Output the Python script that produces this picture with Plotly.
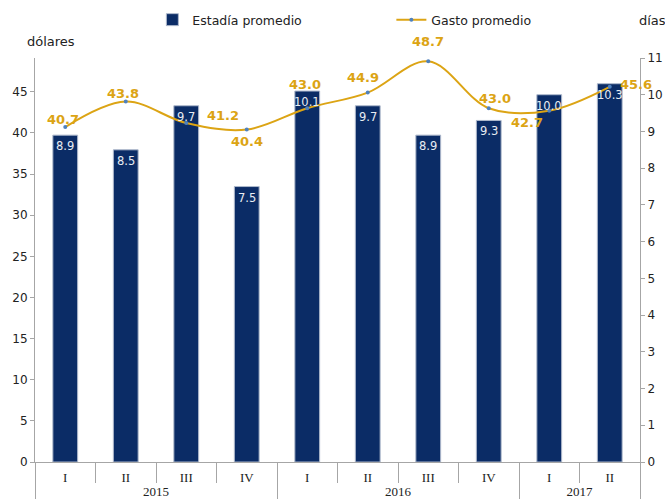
import plotly.graph_objects as go

YEARS = ["2015"] * 4 + ["2016"] * 4 + ["2017"] * 2
QUARTERS = ["I", "II", "III", "IV", "I", "II", "III", "IV", "I", "II"]
ESTADIA = [8.9, 8.5, 9.7, 7.5, 10.1, 9.7, 8.9, 9.3, 10.0, 10.3]
GASTO = [40.7, 43.8, 41.2, 40.4, 43.0, 44.9, 48.7, 43.0, 42.7, 45.6]

# label offsets (px) for the gasto labels, as placed in the original
GASTO_SHIFTS = [(-2, 8), (-3, 8), (37, 8), (0, -12), (-2, 24),
                (-5, 15), (0, 20), (6, 10), (-22, -12), (26, 2)]

NAVY = "#0B2C66"
GOLD = "#DCA414"
AXIS = "#A6A6A6"
FONT = "DejaVu Sans, Verdana, sans-serif"

fig = go.Figure()

fig.add_trace(go.Bar(
    x=[YEARS, QUARTERS], y=ESTADIA, name="Estadía promedio",
    marker=dict(color=NAVY, line=dict(color="#AEB9CC", width=1)),
    width=0.41, yaxis="y",
))
fig.add_trace(go.Scatter(
    x=[YEARS, QUARTERS], y=GASTO, name="Gasto promedio", mode="lines+markers",
    line=dict(color=GOLD, width=2, shape="spline", smoothing=1),
    marker=dict(color="#4F81BD", size=4),
    yaxis="y2", cliponaxis=False,
))

annotations = []
for i, (v, (dx, dy)) in enumerate(zip(GASTO, GASTO_SHIFTS)):
    annotations.append(dict(
        x=i, y=v, xref="x", yref="y2", text=f"{v:.1f}", showarrow=False,
        xshift=dx, yshift=dy, font=dict(family=FONT, size=13, color=GOLD, weight="bold"),
    ))
for i, v in enumerate(ESTADIA):
    annotations.append(dict(
        x=i, y=v, xref="x", yref="y", text=f"{v:.1f}", showarrow=False,
        yanchor="top", yshift=-2, font=dict(family=FONT, size=11.5, color="#E8ECF2"),
    ))
annotations.append(dict(
    x=-0.0165, y=1.04, xref="paper", yref="paper", text="dólares", showarrow=False,
    xanchor="left", yanchor="middle", font=dict(family=FONT, size=13, color="#222"),
))
annotations.append(dict(
    x=0.995, y=1.094, xref="paper", yref="paper", text="días", showarrow=False,
    xanchor="left", yanchor="middle", font=dict(family=FONT, size=13, color="#222"),
))

fig.update_layout(
    width=665, height=502,
    margin=dict(l=35, r=25, t=58, b=40, autoexpand=False),
    plot_bgcolor="white", paper_bgcolor="white",
    font=dict(family=FONT, size=12, color="#333"),
    bargap=0.59,
    legend=dict(
        orientation="h", x=0.194, y=1.094, xanchor="left", yanchor="middle",
        font=dict(family=FONT, size=12.5, color="#222"),
        entrywidth=194, entrywidthmode="pixels", bgcolor="rgba(0,0,0,0)",
    ),
    annotations=annotations,
    xaxis=dict(
        type="multicategory", range=[-0.5, len(QUARTERS) - 0.5], autorange=False,
        showline=True, linecolor=AXIS, linewidth=1,
        ticks="outside", tickson="boundaries", ticklen=20, tickcolor=AXIS,
        showdividers=True, dividercolor=AXIS, dividerwidth=1, automargin=False,
        ticklabelstandoff=3,
        showgrid=False, tickfont=dict(family="Liberation Serif", size=13, color="#222"),
    ),
    yaxis=dict(
        range=[0, 11], dtick=1, side="right", showline=True, linecolor=AXIS,
        ticks="outside", ticklen=4, tickcolor=AXIS, showgrid=False, zeroline=False,
        tickfont=dict(size=12, color="#222"), automargin=False,
    ),
    yaxis2=dict(
        range=[0, 49.1], dtick=5, side="left", overlaying="y", showline=True,
        linecolor=AXIS, ticks="outside", ticklen=4, tickcolor=AXIS, automargin=False,
        showgrid=False, zeroline=False, tickfont=dict(size=12, color="#222"),
    ),
)

PAGE_FIX = (
    "document.body.style.margin='0';"
    "document.body.style.overflow='hidden';"
    "var gd=document.getElementById('{plot_id}');"
    "Plotly.relayout(gd,{width:665,height:502});"
)
fig.write_html("out.html", config={"displayModeBar": False}, post_script=PAGE_FIX)
